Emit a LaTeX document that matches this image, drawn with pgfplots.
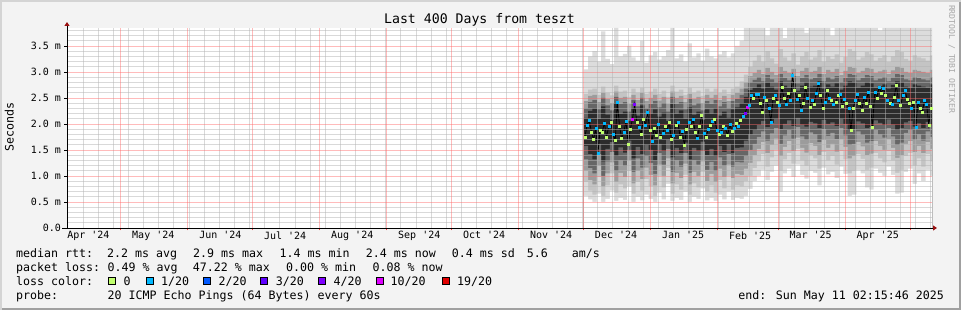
\documentclass[border=0pt]{standalone}
\usepackage{fontspec}
\setmainfont{DejaVu Sans Mono}[Ligatures=TeXOff]
\usepackage{pgfplots}
\usepackage{pgfplotstable}
\pgfplotsset{compat=1.18}
\usetikzlibrary{arrows.meta}
\definecolor{bg}{HTML}{F3F3F3}
\definecolor{bordlight}{HTML}{D4D4D4}
\definecolor{borddark}{HTML}{A0A0A0}
\definecolor{gridgray}{HTML}{B4B4B4}
\definecolor{gridred}{HTML}{FF6A6A}
\definecolor{arrowred}{HTML}{9A1010}
\definecolor{smokeA}{HTML}{DCDCDC}
\definecolor{smokeB}{HTML}{C4C4C4}
\definecolor{smokeC}{HTML}{9C9C9C}
\definecolor{smokeD}{HTML}{666666}
\definecolor{smokeE}{HTML}{2C2C2C}
\definecolor{lossA}{HTML}{C0FF6E}
\definecolor{lossB}{HTML}{00B8FF}
\definecolor{lossC}{HTML}{0059FF}
\definecolor{lossD}{HTML}{5E00FF}
\definecolor{lossE}{HTML}{7E00FF}
\definecolor{lossF}{HTML}{DD00FF}
\definecolor{lossG}{HTML}{E00000}
\definecolor{wmgray}{HTML}{A8A8A8}
\newcommand{\tickfont}{\fontsize{10}{12}\selectfont}
\newcommand{\legfont}{\fontsize{11.63}{14}\selectfont}
\newcommand{\titlefont}{\fontsize{13.2}{16}\selectfont}
\newcommand{\wmfont}{\fontsize{8.15}{10}\selectfont}

% smoke bands (ms): a0<a1<a2<a3<a4 lower edges, b4<b3<b2<b1<b0 upper edges; x in days from start (6 Apr 2024)
\pgfplotstableread{
x a0 a1 a2 a3 a4 b4 b3 b2 b1 b0
239 0.62 0.88 1.10 1.32 1.58 2.12 2.30 2.44 2.58 3.05
241 0.55 0.72 0.92 1.15 1.42 2.25 2.42 2.54 2.66 3.30
243 0.50 0.64 0.84 1.05 1.32 2.30 2.46 2.56 2.68 3.40
245 0.66 0.98 1.20 1.42 1.62 2.10 2.28 2.42 2.56 3.20
247 0.50 0.62 0.80 1.00 1.28 2.34 2.50 2.60 2.72 3.78
249 0.56 0.82 1.05 1.28 1.52 2.18 2.36 2.48 2.60 3.25
251 0.72 1.05 1.26 1.46 1.65 2.08 2.26 2.40 2.55 3.15
253 0.52 0.68 0.88 1.10 1.38 2.40 2.52 2.62 2.74 3.85
255 0.58 0.84 1.06 1.30 1.55 2.20 2.38 2.50 2.62 3.30
257 0.54 0.76 0.98 1.20 1.45 2.24 2.42 2.52 2.64 3.35
259 0.80 1.10 1.30 1.50 1.68 2.06 2.24 2.38 2.52 3.50
261 0.50 0.66 0.86 1.08 1.34 2.30 2.46 2.56 2.68 3.28
263 0.60 0.88 1.10 1.34 1.56 2.16 2.34 2.46 2.60 3.22
265 0.53 0.72 0.94 1.16 1.42 2.36 2.50 2.60 2.70 3.60
267 0.64 0.94 1.16 1.38 1.60 2.12 2.30 2.44 2.58 3.18
269 0.56 0.80 1.02 1.25 1.50 2.20 2.38 2.50 2.62 3.32
271 0.50 0.62 0.82 1.04 1.30 2.28 2.44 2.56 2.68 3.38
273 0.68 1.00 1.22 1.44 1.62 2.14 2.32 2.45 2.58 3.24
275 0.55 0.78 1.00 1.22 1.48 2.22 2.40 2.52 2.64 3.30
277 0.85 1.15 1.34 1.52 1.70 2.06 2.24 2.38 2.52 3.42
279 0.52 0.66 0.86 1.08 1.36 2.38 2.52 2.62 2.74 3.85
281 0.58 0.84 1.06 1.30 1.54 2.20 2.38 2.50 2.62 3.26
283 0.54 0.74 0.96 1.18 1.44 2.26 2.42 2.54 2.66 3.34
285 0.70 1.02 1.24 1.44 1.64 2.10 2.28 2.42 2.56 3.20
287 0.50 0.64 0.84 1.06 1.32 2.32 2.48 2.58 2.70 3.55
289 0.60 0.86 1.08 1.30 1.54 2.18 2.36 2.48 2.60 3.28
291 0.56 0.78 1.00 1.22 1.48 2.24 2.40 2.52 2.64 3.36
293 0.76 1.08 1.28 1.48 1.66 2.08 2.26 2.40 2.54 3.22
295 0.53 0.70 0.90 1.12 1.40 2.28 2.44 2.56 2.68 3.45
297 0.58 0.82 1.04 1.27 1.52 2.20 2.38 2.50 2.62 3.30
299 0.52 0.68 0.88 1.10 1.38 2.30 2.46 2.56 2.68 3.26
301 0.64 0.92 1.14 1.36 1.58 2.16 2.34 2.46 2.60 3.34
303 0.55 0.76 0.98 1.20 1.46 2.24 2.42 2.54 2.66 3.40
305 0.70 1.00 1.22 1.42 1.62 2.12 2.30 2.44 2.58 3.28
307 0.54 0.74 0.96 1.18 1.44 2.28 2.44 2.56 2.68 3.36
309 0.58 0.82 1.04 1.27 1.54 2.32 2.48 2.60 2.72 3.50
311 0.56 0.80 1.02 1.26 1.55 2.40 2.56 2.68 2.82 3.60
313 0.62 0.90 1.14 1.38 1.68 2.52 2.68 2.80 2.95 3.85
315 0.75 1.00 1.25 1.50 1.80 2.65 2.80 2.92 3.10 3.85
317 0.90 1.15 1.40 1.62 1.88 2.70 2.85 2.98 3.22 3.85
319 1.00 1.28 1.52 1.75 1.98 2.76 2.90 3.04 3.32 3.85
321 1.12 1.42 1.65 1.86 2.06 2.68 2.82 2.96 3.20 3.85
323 0.92 1.18 1.44 1.68 1.94 2.80 2.94 3.08 3.40 3.70
325 1.08 1.36 1.60 1.82 2.02 2.72 2.86 3.00 3.26 3.85
327 1.20 1.50 1.72 1.92 2.10 2.66 2.80 2.94 3.16 3.85
329 0.70 1.10 1.38 1.62 1.90 2.82 2.96 3.10 3.44 3.85
331 1.05 1.32 1.56 1.78 2.00 2.74 2.88 3.02 3.28 3.65
333 1.14 1.44 1.67 1.88 2.07 2.70 2.84 2.98 3.22 3.85
335 0.98 1.24 1.48 1.72 1.96 2.78 2.92 3.06 3.36 3.85
337 1.22 1.52 1.74 1.94 2.12 2.64 2.78 2.92 3.14 3.85
339 1.02 1.30 1.54 1.76 1.99 2.74 2.88 3.02 3.30 3.85
341 0.95 1.20 1.45 1.70 1.95 2.80 2.94 3.08 3.38 3.75
343 1.10 1.40 1.63 1.84 2.04 2.72 2.86 3.00 3.24 3.85
345 1.06 1.34 1.58 1.80 2.01 2.74 2.88 3.02 3.28 3.85
347 0.82 1.14 1.40 1.65 1.92 2.82 2.96 3.10 3.42 3.85
349 1.16 1.46 1.69 1.90 2.08 2.68 2.82 2.96 3.20 3.85
351 1.03 1.30 1.54 1.77 2.00 2.76 2.90 3.04 3.30 3.85
353 1.08 1.38 1.62 1.83 2.03 2.72 2.86 3.00 3.25 3.70
355 0.96 1.22 1.47 1.71 1.96 2.78 2.92 3.06 3.34 3.85
357 1.18 1.48 1.71 1.92 2.10 2.66 2.80 2.94 3.18 3.85
359 1.04 1.32 1.56 1.78 2.00 2.74 2.88 3.02 3.29 3.85
361 0.62 1.05 1.34 1.60 1.88 2.82 2.96 3.10 3.44 3.85
363 0.64 1.10 1.38 1.62 1.90 2.80 2.94 3.08 3.40 3.85
365 1.12 1.42 1.65 1.86 2.05 2.70 2.84 2.98 3.24 3.85
367 1.05 1.33 1.57 1.79 2.01 2.74 2.88 3.02 3.28 3.85
369 0.78 1.12 1.40 1.64 1.92 2.80 2.94 3.08 3.38 3.85
371 0.74 1.16 1.43 1.67 1.94 2.78 2.92 3.06 3.34 3.85
373 1.14 1.44 1.67 1.88 2.07 2.70 2.84 2.98 3.22 3.85
375 1.06 1.34 1.58 1.80 2.02 2.73 2.87 3.01 3.27 3.80
377 1.00 1.26 1.50 1.74 1.98 2.76 2.90 3.04 3.32 3.85
379 1.18 1.48 1.71 1.92 2.09 2.68 2.82 2.96 3.19 3.85
381 1.02 1.30 1.54 1.76 1.99 2.75 2.89 3.03 3.30 3.85
383 0.66 1.06 1.35 1.60 1.88 2.82 2.96 3.10 3.42 3.85
385 0.68 1.12 1.40 1.64 1.92 2.80 2.94 3.08 3.38 3.85
387 1.08 1.38 1.62 1.83 2.03 2.72 2.86 3.00 3.25 3.85
389 1.14 1.44 1.67 1.88 2.06 2.70 2.84 2.98 3.22 3.85
391 0.85 1.20 1.46 1.70 1.95 2.76 2.90 3.04 3.32 3.85
393 1.05 1.34 1.58 1.80 2.01 2.74 2.88 3.02 3.28 3.85
395 0.90 1.18 1.44 1.68 1.92 2.72 2.86 3.00 3.26 3.85
397 1.12 1.42 1.65 1.86 2.04 2.70 2.84 2.98 3.22 3.85
399 1.00 1.28 1.52 1.75 1.98 2.76 2.90 3.04 3.32 3.85
400 1.00 1.28 1.52 1.75 1.98 2.76 2.90 3.04 3.32 3.85
}\smoke

% median rtt (ms) per day with loss class
\pgfplotstableread{
x m c
239.5 1.75 g
240.5 1.98 b
241.5 2.07 b
242.5 1.85 g
243.5 1.70 g
244.5 1.92 b
245.5 1.43 b
246.5 1.88 g
247.5 1.85 g
248.5 2.02 b
249.5 1.75 g
250.5 1.95 b
251.5 2.04 g
252.5 1.80 b
253.5 1.68 g
254.5 2.42 b
255.5 1.96 g
256.5 1.72 g
257.5 1.85 b
258.5 2.05 b
259.5 1.62 g
260.5 1.90 g
261.5 2.10 m
262.5 2.38 v
263.5 2.04 g
264.5 1.94 b
265.5 1.80 g
266.5 2.10 g
267.5 1.98 b
268.5 2.23 b
269.5 1.88 g
270.5 1.66 b
271.5 1.92 g
272.5 1.78 g
273.5 2.00 b
274.5 1.75 g
275.5 1.82 b
276.5 1.95 g
277.5 1.88 b
278.5 2.04 g
279.5 1.70 g
280.5 1.78 b
281.5 1.98 g
282.5 2.04 b
283.5 1.75 g
284.5 1.86 b
285.5 1.59 g
286.5 1.90 g
287.5 2.04 b
288.5 1.96 g
289.5 2.10 b
290.5 1.85 g
291.5 1.72 b
292.5 1.95 g
293.5 2.17 g
294.5 1.82 b
295.5 1.75 g
296.5 1.90 b
297.5 1.98 g
298.5 2.06 b
299.5 2.10 g
300.5 1.88 b
301.5 1.80 g
302.5 1.85 b
303.5 1.95 g
304.5 1.91 b
305.5 1.78 g
306.5 2.00 b
307.5 1.86 g
308.5 1.92 b
309.5 2.02 g
310.5 1.95 b
311.5 2.08 g
312.5 2.15 b
313.5 2.20 v
314.5 2.33 m
315.5 2.36 b
316.5 2.55 b
317.5 2.50 g
318.5 2.58 b
319.5 2.58 b
320.5 2.40 g
321.5 2.23 g
322.5 2.52 b
323.5 2.45 g
324.5 2.30 b
325.5 2.04 b
326.5 2.49 g
327.5 2.55 b
328.5 2.42 g
329.5 2.36 b
330.5 2.71 g
331.5 2.50 g
332.5 2.39 b
333.5 2.60 g
334.5 2.45 b
335.5 2.93 b
336.5 2.65 g
337.5 2.48 b
338.5 2.55 g
339.5 2.26 b
340.5 2.40 g
341.5 2.71 g
342.5 2.50 b
343.5 2.33 g
344.5 2.45 b
345.5 2.39 g
346.5 2.60 b
347.5 2.78 b
348.5 2.55 g
349.5 2.30 g
350.5 2.42 b
351.5 2.65 g
352.5 2.50 b
353.5 2.46 g
354.5 2.38 b
355.5 2.42 g
356.5 2.55 g
357.5 2.58 b
358.5 2.35 g
359.5 2.48 b
360.5 2.40 g
361.5 2.30 b
362.5 1.88 g
363.5 2.30 g
364.5 2.45 b
365.5 2.58 b
366.5 2.40 g
367.5 2.26 g
368.5 2.52 b
369.5 2.40 g
370.5 2.62 b
371.5 2.35 g
372.5 1.94 g
373.5 2.62 b
374.5 2.50 g
375.5 2.71 b
376.5 2.60 g
377.5 2.68 b
378.5 2.55 g
379.5 2.46 b
380.5 2.40 g
381.5 2.39 b
382.5 2.52 g
383.5 2.75 g
384.5 2.45 b
385.5 2.36 g
386.5 2.55 b
387.5 2.65 b
388.5 2.48 g
389.5 2.40 g
390.5 2.30 b
391.5 2.42 g
392.5 1.94 b
393.5 2.42 b
394.5 2.30 g
395.5 2.23 g
396.5 2.45 b
397.5 2.39 b
398.5 1.98 g
399.5 2.30 g
}\med

\begin{document}
\begin{tikzpicture}[x=1pt,y=1pt]
\useasboundingbox (0,0) rectangle (961,310);
\fill[bg] (0,0) rectangle (961,310);
\fill[bordlight] (0,0) rectangle (2,310);
\fill[bordlight] (0,308) rectangle (961,310);
\fill[borddark] (959,0) rectangle (961,308);
\fill[borddark] (2,0) rectangle (961,2);

\begin{axis}[
  at={(67pt,82pt)}, anchor=south west,
  scale only axis, width=865pt, height=200pt,
  xmin=0, xmax=400, ymin=0, ymax=3.846,
  axis on top,
  axis background/.style={fill=white},
  axis x line=bottom, axis y line=left,
  x axis line style={line width=0.9pt, black, -{Triangle[length=4pt,width=5pt,color=arrowred,fill=arrowred]}, shorten >=-5pt, shorten <=-5pt},
  y axis line style={line width=0.9pt, black, -{Triangle[length=4pt,width=5pt,color=arrowred,fill=arrowred]}, shorten >=-6pt},
  xtick={24.906,55.906,85.906,116.906,147.906,177.906,208.906,238.906,269.906,300.906,328.906,359.906,389.906},
  xticklabels={},
  xtick style={color=red!75, line width=0.8pt},
  ytick style={color=black, line width=0.8pt},
  extra x ticks={9.9,39.9,70.9,100.9,131.9,162.9,192.9,223.9,253.9,284.9,315.9,343.9,374.9},
  extra x tick labels={Apr '24,May '24,Jun '24,Jul '24,Aug '24,Sep '24,Oct '24,Nov '24,Dec '24,Jan '25,Feb '25,Mar '25,Apr '25},
  extra x tick style={major tick length=0pt},
  ytick={0,0.5,1,1.5,2,2.5,3,3.5},
  yticklabels={0.0,0.5 m,1.0 m,1.5 m,2.0 m,2.5 m,3.0 m,3.5 m},
  tick align=outside, major tick length=2.5pt,
  tick label style={font=\tickfont},
]
\addplot[const plot, draw=none, fill=smokeA] table[x=x,y=b0] {\smoke} \closedcycle;
\addplot[const plot, draw=none, fill=smokeB] table[x=x,y=b1] {\smoke} \closedcycle;
\addplot[const plot, draw=none, fill=smokeC] table[x=x,y=b2] {\smoke} \closedcycle;
\addplot[const plot, draw=none, fill=smokeD] table[x=x,y=b3] {\smoke} \closedcycle;
\addplot[const plot, draw=none, fill=smokeE] table[x=x,y=b4] {\smoke} \closedcycle;
\addplot[const plot, draw=none, fill=smokeD] table[x=x,y=a4] {\smoke} \closedcycle;
\addplot[const plot, draw=none, fill=smokeC] table[x=x,y=a3] {\smoke} \closedcycle;
\addplot[const plot, draw=none, fill=smokeB] table[x=x,y=a2] {\smoke} \closedcycle;
\addplot[const plot, draw=none, fill=smokeA] table[x=x,y=a1] {\smoke} \closedcycle;
\addplot[const plot, draw=none, fill=white] table[x=x,y=a0] {\smoke} \closedcycle;
\addplot[black, line width=0.8pt] table[x=x,y=m] {\med};
\addplot[scatter, only marks, scatter src=explicit symbolic,
  scatter/classes={
    g={mark=square*, draw=lossA, fill=lossA, mark size=1.0pt},
    b={mark=square*, draw=lossB, fill=lossB, mark size=1.0pt},
    v={mark=square*, draw=lossE, fill=lossE, mark size=1.0pt},
    m={mark=square*, draw=lossF, fill=lossF, mark size=1.0pt}}]
  table[x=x,y=m,meta=c] {\med};
% grid lines (half-covered like rrdtool's dotted grid), drawn over the smoke
\pgfplotsinvokeforeach{0.4,7.4,...,399}{
  \draw[gridgray, draw opacity=0.5, line width=0.8pt] (axis cs:#1,0) -- (axis cs:#1,3.846);}
\pgfplotsinvokeforeach{0.1,0.2,0.3,0.4,0.6,0.7,0.8,0.9,1.1,1.2,1.3,1.4,1.6,1.7,1.8,1.9,2.1,2.2,2.3,2.4,2.6,2.7,2.8,2.9,3.1,3.2,3.3,3.4,3.6,3.7,3.8}{
  \draw[gridgray, draw opacity=0.5, line width=0.8pt] (axis cs:0,#1) -- (axis cs:400,#1);}
\pgfplotsinvokeforeach{24.906,55.906,85.906,116.906,147.906,177.906,208.906,238.906,269.906,300.906,328.906,359.906,389.906}{
  \draw[gridred, draw opacity=0.45, line width=0.8pt] (axis cs:#1,0) -- (axis cs:#1,3.846);}
\pgfplotsinvokeforeach{0.5,1,1.5,2,2.5,3,3.5}{
  \draw[gridred, draw opacity=0.45, line width=0.8pt] (axis cs:0,#1) -- (axis cs:400,#1);}
\end{axis}

% title, axis label, watermark
\node[anchor=base, inner sep=0, font=\titlefont] at (479.5,286) {Last 400 Days from teszt};
\node[anchor=base, inner sep=0, rotate=90, font=\legfont] at (13.5,183) {Seconds};
\node[anchor=base, inner sep=0, rotate=-90, font=\wmfont, text=wmgray] at (949,251) {RRDTOOL / TOBI OETIKER};

% legend
\begin{scope}[every node/.style={anchor=base west, inner sep=0, font=\legfont}]
\node at (16,52.3) {median rtt:};
\node at (107,52.3) {2.2 ms avg};
\node at (193,52.3) {2.9 ms max};
\node at (279.3,52.3) {1.4 ms min};
\node at (365.7,52.3) {2.4 ms now};
\node at (451.7,52.3) {0.4 ms sd};
\node at (526.7,52.3) {5.6};
\node at (571.7,52.3) {am/s};
\node at (16,38.3) {packet loss:};
\node at (107.3,38.3) {0.49 \% avg};
\node at (192.7,38.3) {47.22 \% max};
\node at (286,38.3) {0.00 \% min};
\node at (372.3,38.3) {0.08 \% now};
\node at (16,24.3) {loss color:};
\node at (123.3,24.3) {0};
\node at (161,24.3) {1/20};
\node at (218.3,24.3) {2/20};
\node at (275.7,24.3) {3/20};
\node at (333.3,24.3) {4/20};
\node at (390.5,24.3) {10/20};
\node at (457,24.3) {19/20};
\node at (16,10.3) {probe:};
\node at (107.3,10.3) {20 ICMP Echo Pings (64 Bytes) every 60s};
\node[anchor=base east] at (944,10.3) {end: Sun May 11 02:15:46 2025};
\end{scope}
\begin{scope}[line width=0.7pt, draw=black]
\filldraw[fill=lossA] (108.6,25.3) rectangle (115.6,32.5);
\filldraw[fill=lossB] (145.9,25.3) rectangle (152.9,32.5);
\filldraw[fill=lossC] (203.3,25.3) rectangle (210.3,32.5);
\filldraw[fill=lossD] (260.7,25.3) rectangle (267.7,32.5);
\filldraw[fill=lossE] (318.3,25.3) rectangle (325.3,32.5);
\filldraw[fill=lossF] (376.3,25.3) rectangle (383.3,32.5);
\filldraw[fill=lossG] (442,25.3) rectangle (449,32.5);
\end{scope}
\end{tikzpicture}
\end{document}
